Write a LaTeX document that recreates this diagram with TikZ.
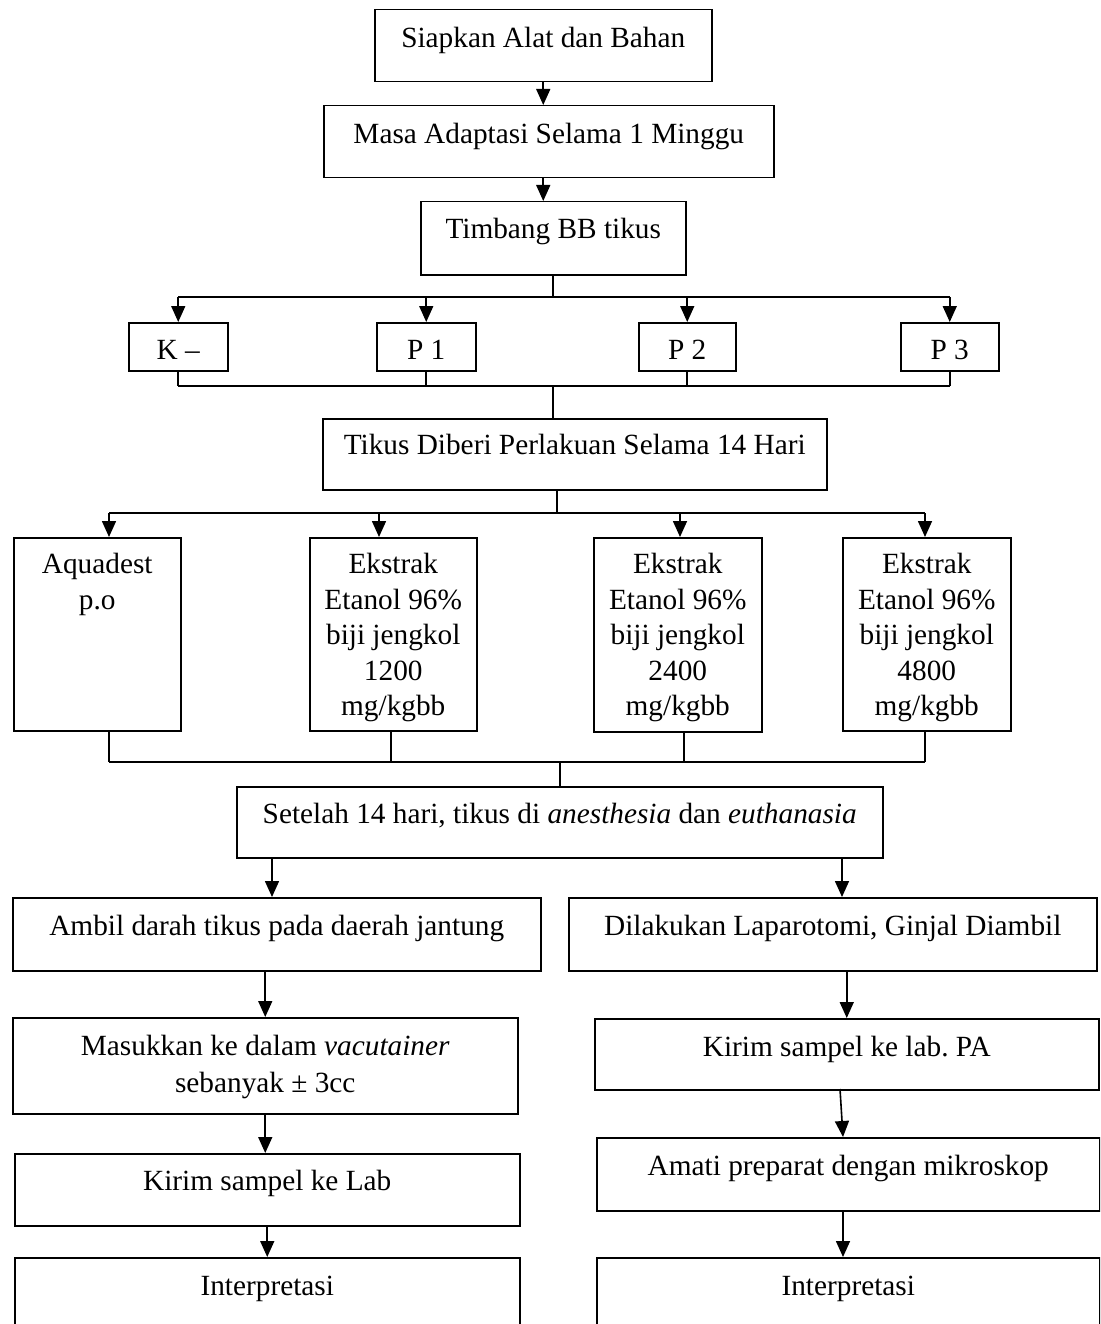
\documentclass[tikz,border=0pt]{standalone}
\usepackage{fontspec}
\setmainfont{Liberation Serif}
\usetikzlibrary{arrows.meta}

\begin{document}
\begin{tikzpicture}[x=1pt, y=-1pt,
        caixa/.style={draw, line width=1.5pt, inner sep=0pt, anchor=north west,
            font=\fontsize{29.3}{35.5}\selectfont},
        seta/.style={line width=1.6pt, -{Triangle[length=16pt, width=14pt]}},
        linha/.style={line width=1.6pt}]
        \clip (0,0) rectangle (1100,1324);

        % Desenha as caixas
        \node[caixa, minimum width=337pt, text height=38pt, text depth=34pt] (siapkan) at (374,9) {Siapkan Alat dan Bahan};
        \node[caixa, minimum width=450pt, text height=38pt, text depth=34pt] (masa) at (323,105) {Masa Adaptasi Selama 1 Minggu};
        \node[caixa, minimum width=265pt, text height=37pt, text depth=36pt] (timbang) at (420,201) {Timbang BB tikus};
        \node[caixa, minimum width=99pt, text height=37pt, text depth=11pt] (km) at (128,322) {K –};
        \node[caixa, minimum width=99pt, text height=37pt, text depth=11pt] (p1) at (376,322) {P 1};
        \node[caixa, minimum width=97pt, text height=37pt, text depth=11pt] (p2) at (638,322) {P 2};
        \node[caixa, minimum width=98pt, text height=37pt, text depth=11pt] (p3) at (900,322) {P 3};
        \node[caixa, minimum width=504pt, text height=36pt, text depth=35pt] (tikus) at (322,418) {Tikus Diberi Perlakuan Selama 14 Hari};
        \node[caixa, minimum width=167pt, text height=36pt, text depth=157pt] (aquadest) at (13,537)
            {\begin{tabular}[t]{@{}c@{}}Aquadest\\p.o\end{tabular}};
        \node[caixa, minimum width=167pt, text height=36pt, text depth=157pt] (e1200) at (309,537)
            {\begin{tabular}[t]{@{}c@{}}Ekstrak\\Etanol 96\%\\biji jengkol\\1200\\mg/kgbb\end{tabular}};
        \node[caixa, minimum width=168pt, text height=36pt, text depth=158pt] (e2400) at (593,537)
            {\begin{tabular}[t]{@{}c@{}}Ekstrak\\Etanol 96\%\\biji jengkol\\2400\\mg/kgbb\end{tabular}};
        \node[caixa, minimum width=168pt, text height=36pt, text depth=157pt] (e4800) at (842,537)
            {\begin{tabular}[t]{@{}c@{}}Ekstrak\\Etanol 96\%\\biji jengkol\\4800\\mg/kgbb\end{tabular}};
        \node[caixa, minimum width=646pt, text height=37pt, text depth=34pt] (setelah) at (236,786)
            {Setelah 14 hari, tikus di \textit{anesthesia} dan \textit{euthanasia}};
        \node[caixa, minimum width=528pt, text height=38pt, text depth=35pt] (ambil) at (12,897) {Ambil darah tikus pada daerah jantung};
        \node[caixa, minimum width=528pt, text height=38pt, text depth=35pt] (dilakukan) at (568,897) {Dilakukan Laparotomi, Ginjal Diambil};
        \node[caixa, minimum width=505pt, text height=38pt, text depth=58pt] (masukkan) at (12,1017)
            {\begin{tabular}[t]{@{}c@{}}Masukkan ke dalam \textit{vacutainer}\\[1.5pt]sebanyak ± 3cc\end{tabular}};
        \node[caixa, minimum width=504pt, text height=38pt, text depth=33pt] (kirimpa) at (594,1018) {Kirim sampel ke lab.\ PA};
        \node[caixa, minimum width=505pt, text height=37pt, text depth=35pt] (kirimlab) at (14,1153) {Kirim sampel ke Lab};
        \node[caixa, minimum width=503pt, text height=38pt, text depth=35pt] (amati) at (596,1137) {Amati preparat dengan mikroskop};
        \node[caixa, minimum width=505pt, text height=38pt, text depth=40pt] (interp1) at (14,1257) {Interpretasi};
        \node[caixa, minimum width=503pt, text height=38pt, text depth=40pt] (interp2) at (596,1257) {Interpretasi};

        % Pontos das linhas de ligacao
        \coordinate (b1) at (553,297);
        \coordinate (b2) at (553,386);
        \coordinate (b3) at (557,513);
        \coordinate (a1) at (109,513);
        \coordinate (a2) at (379,513);
        \coordinate (a3) at (680,513);
        \coordinate (a4) at (925,513);
        \coordinate (c1) at (109,762);
        \coordinate (c2) at (391,762);
        \coordinate (c3) at (684,762);
        \coordinate (c4) at (925,762);
        \coordinate (s1) at (272,857);
        \coordinate (s2) at (842,857);
        \coordinate (r1) at (840,1089);
        \coordinate (r2) at (843,1137);

        \draw[seta] (siapkan.south) -- (siapkan.south |- masa.north);
        \draw[seta] (siapkan.south |- masa.south) -- (siapkan.south |- timbang.north);

        \draw[linha] (timbang.south) -- (timbang.south |- b1);
        \draw[linha] (km.north |- b1) -- (p3.north |- b1);
        \draw[seta] (km.north |- b1) -- (km.north);
        \draw[seta] (p1.north |- b1) -- (p1.north);
        \draw[seta] (p2.north |- b1) -- (p2.north);
        \draw[seta] (p3.north |- b1) -- (p3.north);

        \draw[linha] (km.south) -- (km.south |- b2);
        \draw[linha] (p1.south) -- (p1.south |- b2);
        \draw[linha] (p2.south) -- (p2.south |- b2);
        \draw[linha] (p3.south) -- (p3.south |- b2);
        \draw[linha] (km.south |- b2) -- (p3.south |- b2);
        \draw[linha] (b2) -- (b2 |- tikus.north);

        \draw[linha] (b3 |- tikus.south) -- (b3);
        \draw[linha] (a1) -- (a4);
        \draw[seta] (a1) -- (a1 |- aquadest.north);
        \draw[seta] (a2) -- (a2 |- e1200.north);
        \draw[seta] (a3) -- (a3 |- e2400.north);
        \draw[seta] (a4) -- (a4 |- e4800.north);

        \draw[linha] (c1 |- aquadest.south) -- (c1);
        \draw[linha] (c2 |- e1200.south) -- (c2);
        \draw[linha] (c3 |- e2400.south) -- (c3);
        \draw[linha] (c4 |- e4800.south) -- (c4);
        \draw[linha] (c1) -- (c4);
        \draw[linha] (setelah.north |- c1) -- (setelah.north);

        \draw[seta] (s1 |- setelah.south) -- (s1 |- ambil.north);
        \draw[seta] (s2 |- setelah.south) -- (s2 |- dilakukan.north);

        \draw[seta] (masukkan.north |- ambil.south) -- (masukkan.north);
        \draw[seta] (masukkan.south) -- (masukkan.south |- kirimlab.north);
        \draw[seta] (kirimlab.south) -- (kirimlab.south |- interp1.north);

        \draw[seta] (kirimpa.north |- dilakukan.south) -- (kirimpa.north);
        \draw[seta] (r1) -- (r2);
        \draw[seta] (r2 |- amati.south) -- (r2 |- interp2.north);
\end{tikzpicture}
\end{document}
